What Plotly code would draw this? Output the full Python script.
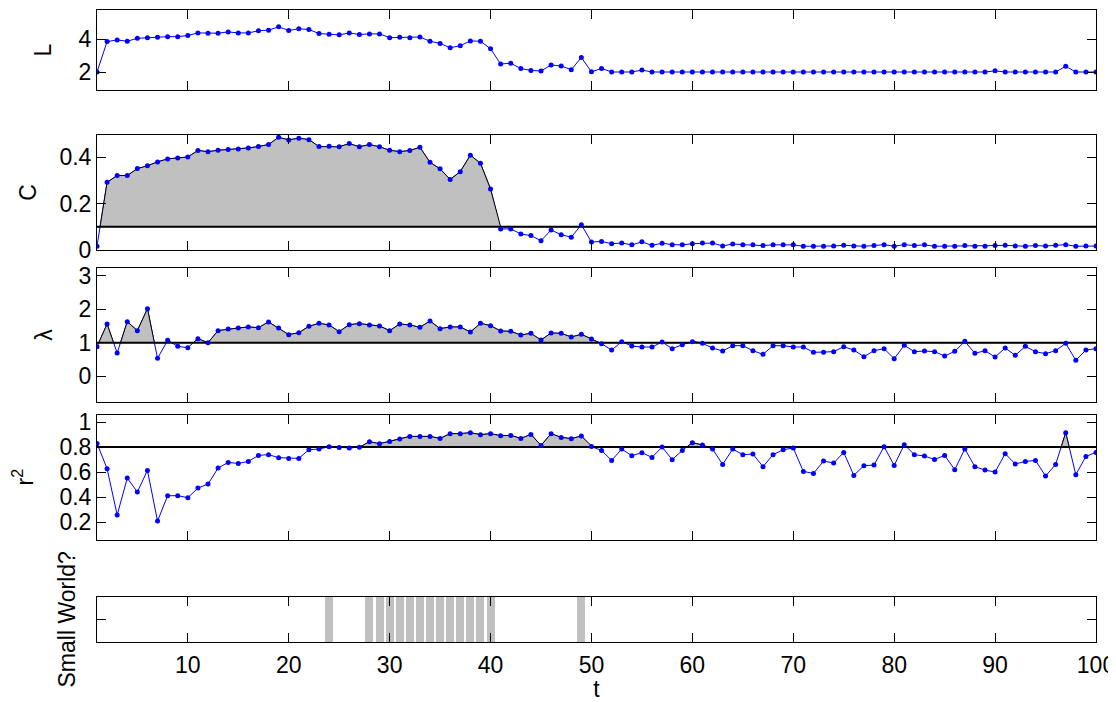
import plotly.graph_objects as go
import numpy as np

t = list(range(1, 101))

L_vals = [2.00, 3.86, 3.96, 3.88, 4.06, 4.10, 4.12, 4.16, 4.16, 4.23,
          4.39, 4.37, 4.37, 4.45, 4.39, 4.39, 4.52, 4.56, 4.76, 4.54,
          4.64, 4.60, 4.35, 4.31, 4.27, 4.39, 4.29, 4.33, 4.33, 4.10,
          4.12, 4.10, 4.14, 3.88, 3.75, 3.48, 3.61, 3.90, 3.88, 3.42,
          2.49, 2.54, 2.21, 2.10, 2.06, 2.43, 2.37, 2.14, 2.89, 2.01,
          2.22, 2.00, 2.00, 2.00, 2.12, 2.00, 2.00, 2.00, 2.00, 2.00,
          2.00, 2.00, 2.00, 2.00, 2.00, 2.00, 2.00, 2.00, 2.00, 2.00,
          2.00, 2.00, 2.00, 2.00, 2.00, 2.00, 2.00, 2.00, 2.00, 2.00,
          2.00, 2.00, 2.00, 2.00, 2.00, 2.00, 2.00, 2.00, 2.00, 2.07,
          2.00, 2.00, 2.00, 2.00, 2.00, 2.00, 2.35, 2.00, 2.00, 2.00]

C_vals = [0.016, 0.292, 0.321, 0.321, 0.351, 0.363, 0.380, 0.393, 0.397, 0.401,
          0.429, 0.424, 0.430, 0.433, 0.436, 0.440, 0.446, 0.455, 0.486, 0.475,
          0.482, 0.476, 0.446, 0.447, 0.445, 0.459, 0.445, 0.455, 0.445, 0.430,
          0.424, 0.429, 0.443, 0.378, 0.350, 0.304, 0.338, 0.409, 0.374, 0.263,
          0.091, 0.091, 0.069, 0.062, 0.040, 0.086, 0.066, 0.055, 0.109, 0.034,
          0.037, 0.027, 0.030, 0.022, 0.035, 0.020, 0.029, 0.023, 0.022, 0.027,
          0.030, 0.030, 0.017, 0.026, 0.023, 0.022, 0.019, 0.022, 0.022, 0.022,
          0.016, 0.016, 0.016, 0.017, 0.020, 0.017, 0.016, 0.019, 0.023, 0.016,
          0.023, 0.019, 0.022, 0.016, 0.016, 0.016, 0.019, 0.016, 0.016, 0.019,
          0.020, 0.017, 0.016, 0.019, 0.017, 0.020, 0.023, 0.016, 0.017, 0.017]

lam_vals = [0.88, 1.56, 0.69, 1.63, 1.36, 2.02, 0.53, 1.07, 0.89, 0.85,
            1.12, 1.00, 1.36, 1.41, 1.44, 1.47, 1.45, 1.62, 1.44, 1.24,
            1.30, 1.49, 1.58, 1.53, 1.33, 1.54, 1.57, 1.53, 1.50, 1.36,
            1.56, 1.53, 1.46, 1.65, 1.42, 1.47, 1.47, 1.32, 1.58, 1.51,
            1.35, 1.34, 1.23, 1.28, 1.08, 1.29, 1.28, 1.17, 1.25, 1.11,
            0.97, 0.78, 1.03, 0.90, 0.87, 0.87, 1.02, 0.82, 0.94, 1.03,
            0.98, 0.84, 0.75, 0.91, 0.91, 0.76, 0.65, 0.91, 0.91, 0.87,
            0.87, 0.71, 0.71, 0.73, 0.88, 0.78, 0.58, 0.76, 0.82, 0.52,
            0.92, 0.73, 0.75, 0.73, 0.60, 0.74, 1.04, 0.68, 0.76, 0.57,
            0.84, 0.62, 0.89, 0.73, 0.67, 0.76, 0.98, 0.47, 0.78, 0.82]

r2_vals = [0.829, 0.627, 0.256, 0.552, 0.440, 0.613, 0.208, 0.411, 0.411, 0.395,
           0.472, 0.504, 0.632, 0.677, 0.669, 0.685, 0.733, 0.739, 0.715, 0.709,
           0.709, 0.779, 0.784, 0.803, 0.797, 0.793, 0.798, 0.843, 0.827, 0.845,
           0.864, 0.885, 0.885, 0.885, 0.869, 0.907, 0.907, 0.915, 0.899, 0.907,
           0.891, 0.893, 0.869, 0.901, 0.813, 0.907, 0.877, 0.867, 0.888, 0.804,
           0.773, 0.693, 0.784, 0.731, 0.755, 0.717, 0.800, 0.699, 0.773, 0.835,
           0.816, 0.784, 0.661, 0.784, 0.739, 0.744, 0.643, 0.739, 0.779, 0.792,
           0.605, 0.589, 0.688, 0.672, 0.757, 0.573, 0.651, 0.656, 0.803, 0.653,
           0.819, 0.739, 0.728, 0.701, 0.733, 0.619, 0.784, 0.643, 0.616, 0.600,
           0.747, 0.664, 0.685, 0.693, 0.568, 0.661, 0.915, 0.579, 0.725, 0.757]

small_world_t = [24, 28, 29, 30, 31, 32, 33, 34, 35, 36, 37, 38, 39, 40, 49]
small_world_v = [1] * len(small_world_t)

C_thr = 0.1
lam_thr = 1.0
r2_thr = 0.8

BLUE = "#0000ff"
GRAY = "#c0c0c0"
FONT = dict(family="Liberation Sans, Arial, sans-serif", size=23, color="black")


def clip_above(x, y, thr):
    xs, ys = [], []
    for i in range(len(x)):
        if i > 0:
            d0, d1 = y[i - 1] - thr, y[i] - thr
            if d0 * d1 < 0:
                xc = x[i - 1] + (x[i] - x[i - 1]) * d0 / (d0 - d1)
                xs.append(xc)
                ys.append(thr)
        xs.append(x[i])
        ys.append(max(y[i], thr))
    return xs, ys


fig = go.Figure()


def add_panel(idx, y, thr=None):
    xa = "x" if idx == 1 else f"x{idx}"
    ya = "y" if idx == 1 else f"y{idx}"
    fig.add_trace(go.Scatter(x=t, y=y, mode="lines", line=dict(color=BLUE, width=1),
                             xaxis=xa, yaxis=ya, showlegend=False, hoverinfo="skip"))
    if thr is not None:
        fig.add_trace(go.Scatter(x=[t[0], t[-1]], y=[thr, thr], mode="lines",
                                 line=dict(color="black", width=2),
                                 xaxis=xa, yaxis=ya, showlegend=False, hoverinfo="skip"))
        cx, cy = clip_above(t, y, thr)
        fig.add_trace(go.Scatter(x=cx, y=cy, mode="lines", fill="tonexty",
                                 fillcolor=GRAY, line=dict(color="black", width=1),
                                 xaxis=xa, yaxis=ya, showlegend=False, hoverinfo="skip"))
    fig.add_trace(go.Scatter(x=t, y=y, mode="markers",
                             marker=dict(color=BLUE, size=5, line=dict(width=0)),
                             xaxis=xa, yaxis=ya, showlegend=False))


add_panel(1, L_vals)
add_panel(2, C_vals, C_thr)
add_panel(3, lam_vals, lam_thr)
add_panel(4, r2_vals, r2_thr)

fig.add_trace(go.Bar(x=small_world_t, y=small_world_v, width=0.8,
                     marker=dict(color=GRAY, line=dict(width=0)),
                     xaxis="x5", yaxis="y5", showlegend=False))

domains = {
    1: [0.8734, 1.0],
    2: [0.6203, 0.8022],
    3: [0.3802, 0.5913],
    4: [0.1619, 0.3597],
    5: [0.0, 0.0717],
}

yspecs = {
    1: dict(range=[0.9, 5.79], tickvals=[2, 4], ticktext=["2", "4"], title="L", standoff=20),
    2: dict(range=[0, 0.496], tickvals=[0, 0.2, 0.4], ticktext=["0", "0.2", "0.4"], title="C", standoff=16),
    3: dict(range=[-0.77, 3.23], tickvals=[0, 1, 2, 3], ticktext=["0", "1", "2", "3"], title="λ", standoff=19),
    4: dict(range=[0.059, 1.059], tickvals=[0.2, 0.4, 0.6, 0.8, 1.0],
            ticktext=["0.2", "0.4", "0.6", "0.8", "1"], title="r<sup>2</sup>", standoff=23),
    5: dict(range=[0, 1], tickvals=[0.5], ticktext=None, title="Small World?", standoff=13),
}

axis_common = dict(showline=True, linecolor="black", linewidth=1, mirror="ticks",
                   ticks="inside", ticklen=9, tickcolor="black", tickwidth=1,
                   showgrid=False, zeroline=False, tickfont=FONT, automargin=False)

# page body has an 8px margin, so the figure is sized to sit inside the window
layout = dict(
    width=1108, height=694,
    margin=dict(l=89, r=20, t=2, b=60),
    paper_bgcolor="white", plot_bgcolor="white",
    font=FONT, showlegend=False, bargap=0,
)

for i in range(1, 6):
    xk = "xaxis" if i == 1 else f"xaxis{i}"
    yk = "yaxis" if i == 1 else f"yaxis{i}"
    ya = "y" if i == 1 else f"y{i}"
    xa = "x" if i == 1 else f"x{i}"
    xd = dict(axis_common, domain=[0, 1], range=[1, 100],
              tickvals=list(range(10, 101, 10)), anchor=ya,
              showticklabels=(i == 5))
    if i == 5:
        xd["title"] = dict(text="t", font=FONT, standoff=5)
        xd["ticklabelstandoff"] = 2
    layout[xk] = xd
    ys = yspecs[i]
    yd = dict(axis_common, domain=domains[i], range=ys["range"],
              tickvals=ys["tickvals"], anchor=xa,
              title=dict(text=ys["title"], font=FONT, standoff=ys["standoff"]))
    if ys["ticktext"] is None:
        yd["showticklabels"] = False
    else:
        yd["ticktext"] = ys["ticktext"]
    layout[yk] = yd

fig.update_layout(**layout)
fig.write_html("out.html")
